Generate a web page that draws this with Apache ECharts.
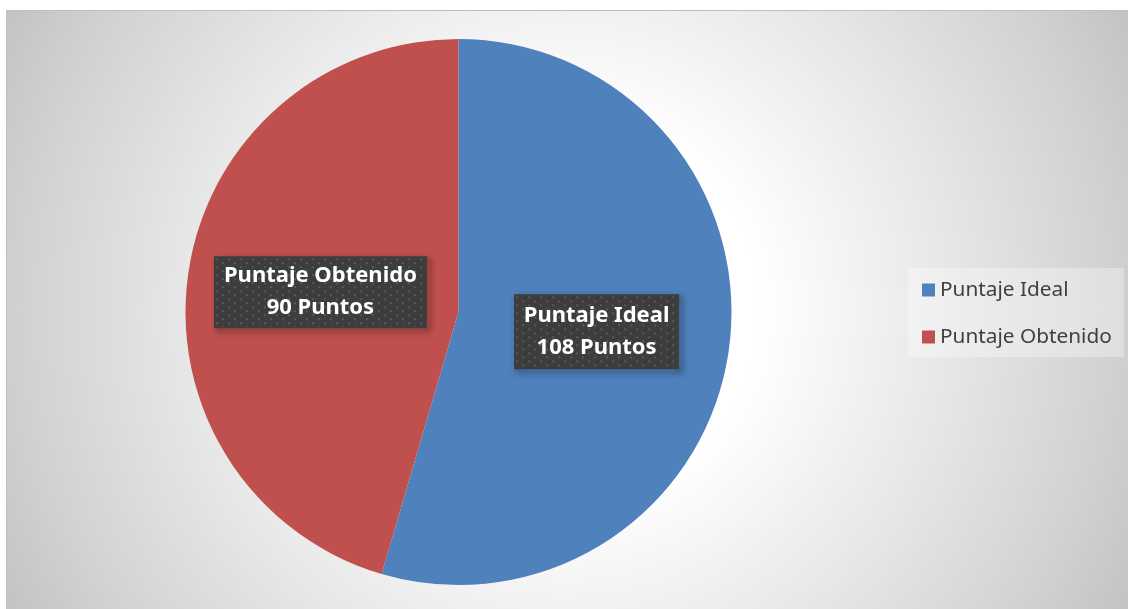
<!DOCTYPE html>
<html>
<head>
<meta charset="utf-8">
<script src="https://cdn.jsdelivr.net/npm/echarts@6/dist/echarts.min.js"></script>
<style>
html,body{margin:0;padding:0;background:#fff;}
#chart{width:1128px;height:609px;}
</style>
</head>
<body>
<div id="chart"></div>
<script>
// ---- data ----
const categories = ['Puntaje Ideal', 'Puntaje Obtenido'];
const values = [108, 90];
const unitText = 'Puntos';
const sliceColors = ['#4F81BD', '#C0504D'];

// ---- helpers ----
function makeDotPattern(w, h) {
  const c = document.createElement('canvas');
  c.width = w; c.height = h;
  const ctx = c.getContext('2d');
  ctx.fillStyle = '#3d3d3d';
  ctx.fillRect(0, 0, w, h);
  ctx.fillStyle = '#585858';
  let row = 0;
  for (let y = 1; y < h; y += 4, row++) {
    const off = (row % 2) ? 6 : 0;
    for (let x = 1 + off; x < w; x += 12) {
      ctx.fillRect(x, y, 2, 2);
    }
  }
  return c;
}

const labelBoxes = [
  { w: 143, h: 65, padH: 10, padV: 4 },
  { w: 191, h: 62, padH: 10, padV: 4 }
];

const chart = echarts.init(document.getElementById('chart'), null, { renderer: 'canvas' });

const pieData = categories.map((name, i) => {
  const b = labelBoxes[i];
  return {
    name: name,
    value: values[i],
    itemStyle: { color: sliceColors[i] },
    label: {
      width: b.w,
      height: b.h,
      padding: [b.padV, b.padH],
      backgroundColor: { image: makeDotPattern(b.w + 2 * b.padH, b.h + 2 * b.padV) }
    }
  };
});

const option = {
  backgroundColor: '#ffffff',
  animation: false,
  graphic: [
    {
      type: 'rect',
      z: -10,
      silent: true,
      shape: { x: 6.5, y: 10.5, width: 1130, height: 610 },
      style: {
        fill: new echarts.graphic.RadialGradient(567, 310, 636, [
          { offset: 0, color: '#ffffff' },
          { offset: 0.3, color: '#ffffff' },
          { offset: 0.6, color: '#e7e7e7' },
          { offset: 0.85, color: '#d2d2d2' },
          { offset: 1, color: '#c3c3c3' }
        ], true),
        stroke: '#bfbfbf',
        lineWidth: 1
      }
    }
  ],
  legend: {
    orient: 'vertical',
    left: 908,
    top: 268,
    padding: [10, 12, 8, 14],
    backgroundColor: 'rgba(255,255,255,0.32)',
    itemWidth: 13,
    itemHeight: 13,
    itemGap: 23,
    icon: 'rect',
    data: categories,
    textStyle: {
      fontFamily: 'Noto Sans',
      fontSize: 20.8,
      color: '#404040',
      lineHeight: 24
    }
  },
  series: [
    {
      type: 'pie',
      center: [458.5, 312],
      radius: 273,
      startAngle: 90,
      clockwise: true,
      avoidLabelOverlap: false,
      label: {
        show: true,
        position: 'inside',
        formatter: function (p) { return p.name + '\n' + p.value + ' ' + unitText; },
        color: '#ffffff',
        fontFamily: 'Noto Sans',
        fontWeight: 'bold',
        fontSize: 22,
        lineHeight: 32,
        overflow: 'none',
        align: 'center',
        verticalAlign: 'middle',
        borderColor: '#3d3d3d',
        borderWidth: 2,
        shadowColor: 'rgba(0,0,0,0.7)',
        shadowBlur: 6,
        shadowOffsetX: 3,
        shadowOffsetY: 3
      },
      labelLine: { show: false },
      emphasis: { disabled: true },
      data: pieData
    }
  ]
};

chart.setOption(option);
</script>
</body>
</html>
